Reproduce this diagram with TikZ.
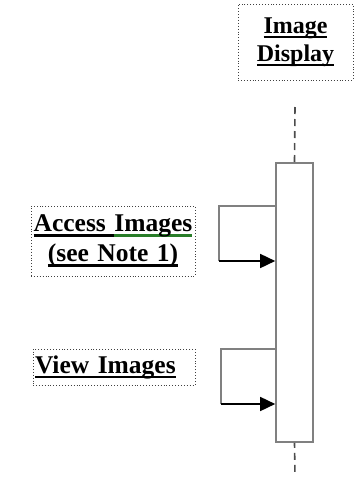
\documentclass[tikz,border=0pt]{standalone}
\usepackage{fontspec}
\setmainfont{Liberation Serif}
\usetikzlibrary{arrows.meta}
\definecolor{ulgreen}{RGB}{40,125,40}
\newcommand\ulword[2][black]{\leavevmode\setbox0\hbox{#2}\rlap{\textcolor{#1}{\rule[-5pt]{\wd0}{2.5pt}}}\box0}
\begin{document}
\begin{tikzpicture}[x=1pt, y=-1pt,
  every node/.style = {font=\fontsize{25.5}{30}\selectfont\bfseries, inner sep=0pt},
  notebox/.style = {draw=black!75, dotted, line width=0.9pt},
  lifeline/.style = {draw=black!70, line width=1.6pt, dash pattern=on 7pt off 5pt},
  callline/.style = {draw=black!50, line width=1.6pt},
  callarrow/.style = {draw=black, line width=1.6pt, -{Triangle[length=15pt, width=14pt]}}
]
  \useasboundingbox (0,0) rectangle (355,480);
  \node[notebox, minimum width=115pt, minimum height=76pt, align=center,
        font=\fontsize{24}{28}\selectfont\bfseries] (disp) at (295.5,42) {\ulword{Image}\\\ulword{Display}};
  \node[draw=black!50, line width=1.6pt, fill=white,
        minimum width=37pt, minimum height=279pt] (act) at (294.5,302.5) {};
  \coordinate (top) at (295,107);
  \coordinate (end) at (295,476);
  \draw[lifeline] (top) -- (act.north);
  \draw[lifeline, dash phase=2pt] (act.south) -- (end);

  \node[notebox, minimum width=164pt, minimum height=70pt, text width=160pt,
        align=center] (access) at (113,241) {\ulword{Access\ }\ulword[ulgreen]{Images}\\\ulword{(see Note 1)}};
  \coordinate (c1) at (219,206);
  \coordinate (d1) at (219,261);
  \draw[callline] (act.west |- c1) -- (c1) -- (d1);
  \draw[callarrow] (d1) -- (act.west |- d1);

  \node[notebox, minimum width=162pt, minimum height=36pt, text width=158pt,
        inner xsep=2pt, align=left] (view) at (114,367) {\ulword{View Images}};
  \coordinate (c2) at (221,349);
  \coordinate (d2) at (221,404);
  \draw[callline] (act.west |- c2) -- (c2) -- (d2);
  \draw[callarrow] (d2) -- (act.west |- d2);
\end{tikzpicture}
\end{document}
